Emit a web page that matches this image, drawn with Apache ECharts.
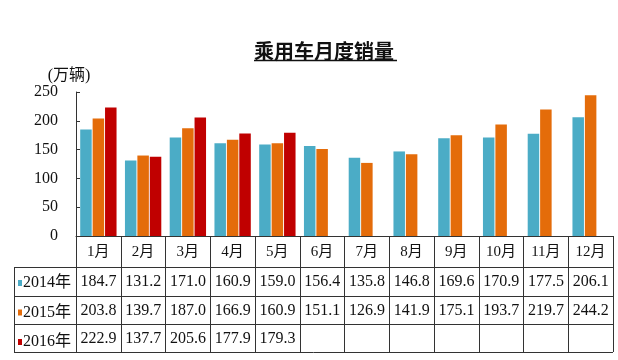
<!DOCTYPE html>
<html>
<head>
<meta charset="utf-8">
<script src="https://cdn.jsdelivr.net/npm/echarts@6/dist/echarts.min.js"></script>
<style>html,body{margin:0;padding:0;background:#fff;}#c{width:618px;height:360px;}</style>
</head>
<body>
<div id="c"></div>
<script>
const months = ['1月','2月','3月','4月','5月','6月','7月','8月','9月','10月','11月','12月'];
const years = ['2014年','2015年','2016年'];
const sales2014 = [184.7,131.2,171.0,160.9,159.0,156.4,135.8,146.8,169.6,170.9,177.5,206.1];
const sales2015 = [203.8,139.7,187.0,166.9,160.9,151.1,126.9,141.9,175.1,193.7,219.7,244.2];
const sales2016 = [222.9,137.7,205.6,177.9,179.3,null,null,null,null,null,null,null];
const yMin = 0, yMax = 250, yStep = 50;

const colors = ['#4bacc6','#e46c0a','#c00000'];
const serif = '"Liberation Serif","Noto Sans CJK SC",serif';
const lineColor = '#333';
const fmt = v => (v == null ? '' : v.toFixed(1));

const chart = echarts.init(document.getElementById('c'));

function rowAxis(vals, offset, tickLen) {
  return {
    type: 'category', gridIndex: 0, position: 'bottom', offset: offset,
    data: vals.map(fmt),
    axisLine: { show: true, lineStyle: { color: lineColor, width: 1 } },
    axisTick: { show: true, length: tickLen, lineStyle: { color: lineColor, width: 1 } },
    axisLabel: { interval: 0, margin: 7, fontFamily: serif, fontSize: 16, color: '#111' },
    splitLine: { show: false }
  };
}

const option = {
  backgroundColor: '#fff',
  animation: false,
  title: {
    text: '乘用车月度销量', left: 319, top: 36, textAlign: 'center',
    textStyle: { fontFamily: '"Noto Sans CJK SC",sans-serif', fontWeight: 'bold', fontSize: 20, color: '#111' }
  },
  legend: {
    orient: 'vertical', left: 18, top: 275, padding: 0, itemWidth: 4, itemHeight: 6, itemGap: 13.5,
    icon: 'rect', data: years,
    textStyle: { fontFamily: serif, fontSize: 16, color: '#111', lineHeight: 16, padding: [0,0,0,-4] }
  },
  grid: { left: 76, right: 5, top: 92, bottom: 124, containLabel: false },
  xAxis: [
    {
      type: 'category', data: months, position: 'bottom',
      axisLine: { show: true, lineStyle: { color: lineColor, width: 1 } },
      axisTick: { show: true, length: 31, lineStyle: { color: lineColor, width: 1 } },
      axisLabel: { interval: 0, margin: 9, fontFamily: serif, fontSize: 15, color: '#111' }
    },
    rowAxis(sales2014, 31, 29),
    rowAxis(sales2015, 60, 28),
    rowAxis(sales2016, 88, 28)
  ],
  yAxis: {
    type: 'value', min: yMin, max: yMax, interval: yStep,
    name: '(万辆)', nameLocation: 'end', nameGap: 3,
    nameTextStyle: { fontFamily: serif, fontSize: 16, color: '#111', align: 'center', padding: [0, 14, 0, 0] },
    axisLine: { show: true, lineStyle: { color: lineColor, width: 1 } },
    axisTick: { show: true, inside: true, length: 4, lineStyle: { color: lineColor } },
    axisLabel: { margin: 18, fontFamily: serif, fontSize: 16, color: '#111' },
    splitLine: { show: false }
  },
  series: [
    { name: years[0], type: 'bar', data: sales2014, barWidth: 11.5, barGap: '8%', itemStyle: { color: colors[0] } },
    { name: years[1], type: 'bar', data: sales2015, barWidth: 11.5, barGap: '8%', itemStyle: { color: colors[1] } },
    { name: years[2], type: 'bar', data: sales2016, barWidth: 11.5, barGap: '8%', itemStyle: { color: colors[2] } }
  ],
  graphic: [
    { type: 'line', shape: { x1: 254, y1: 60.5, x2: 397, y2: 60.5 }, style: { stroke: '#111', lineWidth: 1.5 } },
    { type: 'line', shape: { x1: 14.5, y1: 267, x2: 14.5, y2: 352 }, style: { stroke: lineColor, lineWidth: 1 } },
    { type: 'line', shape: { x1: 14, y1: 267.5, x2: 76, y2: 267.5 }, style: { stroke: lineColor, lineWidth: 1 } },
    { type: 'line', shape: { x1: 14, y1: 296.5, x2: 76, y2: 296.5 }, style: { stroke: lineColor, lineWidth: 1 } },
    { type: 'line', shape: { x1: 14, y1: 324.5, x2: 76, y2: 324.5 }, style: { stroke: lineColor, lineWidth: 1 } },
    { type: 'line', shape: { x1: 14, y1: 352.5, x2: 613, y2: 352.5 }, style: { stroke: lineColor, lineWidth: 1 } }
  ]
};
chart.setOption(option);
</script>
</body>
</html>
